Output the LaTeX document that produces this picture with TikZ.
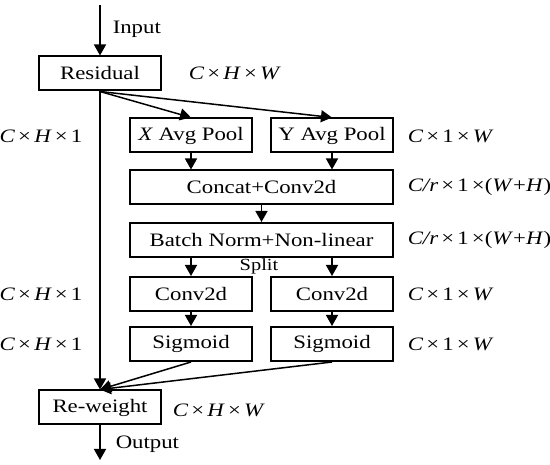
\documentclass[tikz,border=0pt]{standalone}
\usepackage{fontspec}
\setmainfont{Liberation Serif}[FakeStretch=1.2]
\usetikzlibrary{arrows.meta,positioning}

\newcommand{\dimlab}[3]{\textit{#1}\,×\,#2\,×\,#3}

\begin{document}
\begin{tikzpicture}[x=1pt,y=-1pt,
  font=\fontsize{19}{21}\selectfont,
  line width=1.5pt,
  >={Triangle[length=11pt,width=12pt]}]
\tikzset{
  block/.style={draw,line width=2pt,minimum width=122pt,minimum height=34pt,
    inner sep=0pt},
  wide block/.style={block,minimum width=263pt},
  dimtext/.style={inner sep=0pt}
}
\useasboundingbox (0,0) rectangle (550,465);
% main column
\coordinate (in) at (100,5);
\node[block] (residual) at (100,73.5) {Residual};
\node[block] (xpool) at (191,135.5) {\textit{X} Avg Pool};
\node[block] (ypool) at (332,135.5) {Y Avg Pool};
\node[wide block] (concat) at (261.5,187.5) {Concat+Conv2d};
\node[wide block] (bnorm) at (261.5,240) {Batch Norm+Non-linear};
\node[block] (convx) at (191,294) {Conv2d};
\node[block] (convy) at (332,294) {Conv2d};
\node[block] (sigx) at (191,344) {Sigmoid};
\node[block] (sigy) at (332,344) {Sigmoid};
\node[block] (reweight) at (100,407.5) {Re-weight};
\coordinate (out) at (100,460);

% labels
\node[dimtext,anchor=west] (lin) at (112,29) {Input};
\node[dimtext,anchor=west] (lout) at (115,444) {Output};
\node[dimtext,font=\fontsize{17}{19}\selectfont] (lsplit) at (259,266) {Split};
\node[dimtext,anchor=west] (d1) at (188,73) {\dimlab{C}{\textit{H}}{\textit{W}}};
\node[dimtext] (d2) at (41,136) {\dimlab{C}{\textit{H}}{1}};
\node[dimtext,anchor=west] (d3) at (407,136) {\dimlab{C}{1}{\textit{W}}};
\node[dimtext,anchor=west] (d4) at (407,187) {\textit{C/r}\,×\,1\,×(\textit{W}+\textit{H})};
\node[dimtext,anchor=west] (d5) at (407,240) {\textit{C/r}\,×\,1\,×(\textit{W}+\textit{H})};
\node[dimtext] (d6) at (41,294) {\dimlab{C}{\textit{H}}{1}};
\node[dimtext,anchor=west] (d7) at (407,294) {\dimlab{C}{1}{\textit{W}}};
\node[dimtext] (d8) at (41,344) {\dimlab{C}{\textit{H}}{1}};
\node[dimtext,anchor=west] (d9) at (407,344) {\dimlab{C}{1}{\textit{W}}};
\node[dimtext,anchor=west] (d10) at (172,410) {\dimlab{C}{\textit{H}}{\textit{W}}};

% connectors
\draw[->] (in) -- (residual);
\draw[->] (residual.south) -- (xpool.north);
\draw[->] (residual.south) -- (ypool.north);
\draw[->] (xpool) -- (xpool |- concat.north);
\draw[->] (ypool) -- (ypool |- concat.north);
\draw[->] (concat) -- (bnorm);
\draw[->] (bnorm.south -| convx) -- (convx);
\draw[->] (bnorm.south -| convy) -- (convy);
\draw[->] (convx) -- (sigx);
\draw[->] (convy) -- (sigy);
\draw[->] (residual.south) -- (reweight.north);
\draw[->] (sigx.south) -- (reweight.north);
\draw[->] (sigy.south) -- (reweight.north);
\draw[->] (reweight) -- (out);
\end{tikzpicture}
\end{document}
